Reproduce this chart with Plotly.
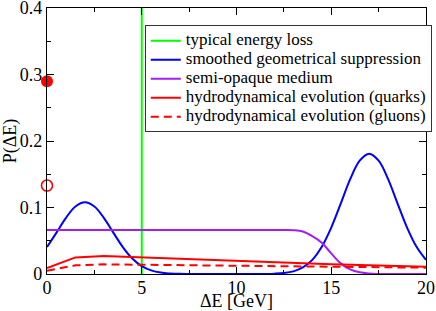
import plotly.graph_objects as go

# ---- data ----
typical_loss_x = 5.0

blue_x = [i * 0.5 for i in range(41)]
blue_y = [0.0405, 0.0622, 0.0845, 0.1016, 0.108, 0.1016, 0.0845, 0.0622, 0.0405, 0.0233,
          0.0119, 0.0054, 0.0021, 0.0008, 0.0002, 0.0001, 0.0, 0.0, 0.0, 0.0,
          0.0, 0.0, 0.0, 0.0001, 0.0005, 0.0015, 0.0040, 0.0098, 0.0212, 0.0409,
          0.0698, 0.1059, 0.1427, 0.1705, 0.181, 0.1705, 0.1427, 0.1059, 0.0698, 0.0409,
          0.0212]

purple_x = [0, 12, 12.5, 13, 13.5, 14, 14.5, 15, 15.5, 16, 16.5, 17, 17.5, 18, 20]
purple_y = [0.066, 0.066, 0.066, 0.0658, 0.064, 0.057, 0.047, 0.031, 0.016, 0.007,
            0.0025, 0.0007, 0.0001, 0.0, 0.0]

quark_x = [0, 1.5, 3, 5, 10, 15, 20]
quark_y = [0.009, 0.025, 0.027, 0.025, 0.019, 0.0145, 0.011]

gluon_x = [0, 1.5, 3, 5, 10, 15, 20]
gluon_y = [0.005, 0.013, 0.0145, 0.014, 0.013, 0.011, 0.0095]

quark_p0 = 0.29
gluon_p0 = 0.133

x_ticks = [0, 5, 10, 15, 20]
y_ticks = [0, 0.1, 0.2, 0.3, 0.4]
y_tick_labels = ["0", "0.1", "0.2", "0.3", "0.4"]

names = ["typical energy loss", "smoothed geometrical suppression", "semi-opaque medium",
         "hydrodynamical evolution (quarks)", "hydrodynamical evolution (gluons)"]

FONT = "Liberation Serif"


def nm(s):
    return '<span style="font-size:17px;font-family:Liberation Serif">' + s + '</span>'


fig = go.Figure()
fig.add_trace(go.Scatter(x=[typical_loss_x, typical_loss_x], y=[0, 0.4], mode="lines",
                         line=dict(color="#00ff00", width=2), name=nm(names[0])))
fig.add_trace(go.Scatter(x=blue_x, y=blue_y, mode="lines",
                         line=dict(color="#0000ff", width=2, shape="spline"), name=nm(names[1])))
fig.add_trace(go.Scatter(x=purple_x, y=purple_y, mode="lines",
                         line=dict(color="#a020f0", width=2, shape="spline"), name=nm(names[2])))
fig.add_trace(go.Scatter(x=quark_x, y=quark_y, mode="lines",
                         line=dict(color="#ff0000", width=2), name=nm(names[3])))
fig.add_trace(go.Scatter(x=gluon_x, y=gluon_y, mode="lines",
                         line=dict(color="#ff0000", width=2, dash="8px,5px"), name=nm(names[4])))
fig.add_trace(go.Scatter(x=[0], y=[quark_p0], mode="markers", showlegend=False, cliponaxis=False,
                         marker=dict(color="#ff0000", size=12, symbol="circle")))
fig.add_trace(go.Scatter(x=[0], y=[gluon_p0], mode="markers", showlegend=False, cliponaxis=False,
                         marker=dict(color="#ff0000", size=11, symbol="circle-open",
                                     line=dict(width=1.6, color="#ff0000"))))

axis_common = dict(showline=True, linecolor="black", linewidth=1.3, mirror="ticks",
                   ticks="inside", ticklen=7, tickcolor="black", tickwidth=1,
                   showgrid=False, zeroline=False,
                   ticklabeloverflow="allow",
                   tickfont=dict(family=FONT, size=18, color="black"))

fig.update_xaxes(range=[0, 20], tickvals=x_ticks, ticklabelstandoff=-3, automargin=True,
                 minor=dict(ticks="inside", ticklen=4, dtick=2.5, tickcolor="black", showgrid=False),
                 title=dict(text="ΔE [GeV]", font=dict(family=FONT, size=18, color="black"), standoff=2),
                 **axis_common)
fig.update_yaxes(range=[0, 0.40001], tickvals=y_ticks, ticktext=y_tick_labels, automargin=False,
                 minor=dict(ticks="inside", ticklen=4, dtick=0.05, tickcolor="black", showgrid=False),
                 title=dict(text="P(ΔE)", font=dict(family=FONT, size=18, color="black")),
                 **axis_common)

fig.update_layout(
    width=436, height=311, autosize=False,
    margin=dict(l=47, r=10, t=8, b=37, autoexpand=False),
    plot_bgcolor="white", paper_bgcolor="white",
    font=dict(family=FONT, color="black"),
    legend=dict(x=0.258, y=0.935, xanchor="left", yanchor="top",
                bgcolor="white", bordercolor="#333333", borderwidth=1,
                font=dict(family=FONT, size=12, color="black")),
)

fig.write_html("out.html",
               config={"displayModeBar": False, "responsive": False},
               post_script="document.body.style.margin='0px';document.body.style.overflow='hidden';")
